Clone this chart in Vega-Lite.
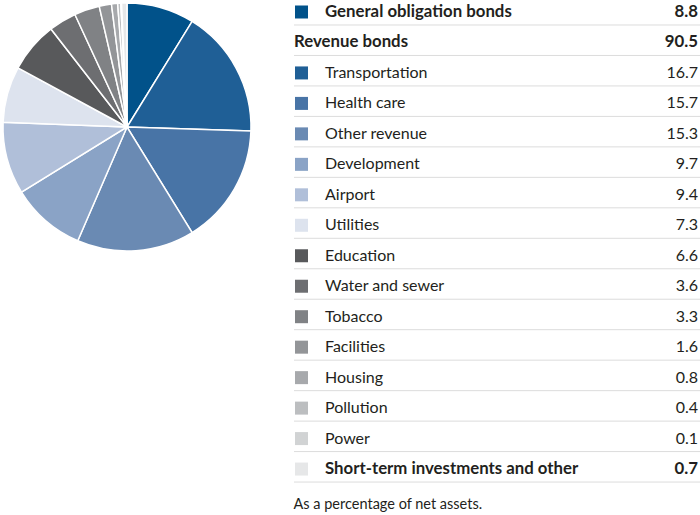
{
  "$schema": "https://vega.github.io/schema/vega-lite/v6.json",
  "padding": 0,
  "background": "white",
  "config": {"view": {"stroke": null}, "concat": {"spacing": 39}, "font": "Lato"},
  "data": {"values": [
    {"i": 0, "label": "General obligation bonds", "value": 8.8, "level": 1, "inPie": true},
    {"i": 1, "label": "Revenue bonds", "value": 90.5, "level": 1, "inPie": false},
    {"i": 2, "label": "Transportation", "value": 16.7, "level": 2, "inPie": true},
    {"i": 3, "label": "Health care", "value": 15.7, "level": 2, "inPie": true},
    {"i": 4, "label": "Other revenue", "value": 15.3, "level": 2, "inPie": true},
    {"i": 5, "label": "Development", "value": 9.7, "level": 2, "inPie": true},
    {"i": 6, "label": "Airport", "value": 9.4, "level": 2, "inPie": true},
    {"i": 7, "label": "Utilities", "value": 7.3, "level": 2, "inPie": true},
    {"i": 8, "label": "Education", "value": 6.6, "level": 2, "inPie": true},
    {"i": 9, "label": "Water and sewer", "value": 3.6, "level": 2, "inPie": true},
    {"i": 10, "label": "Tobacco", "value": 3.3, "level": 2, "inPie": true},
    {"i": 11, "label": "Facilities", "value": 1.6, "level": 2, "inPie": true},
    {"i": 12, "label": "Housing", "value": 0.8, "level": 2, "inPie": true},
    {"i": 13, "label": "Pollution", "value": 0.4, "level": 2, "inPie": true},
    {"i": 14, "label": "Power", "value": 0.1, "level": 2, "inPie": true},
    {"i": 15, "label": "Short-term investments and other", "value": 0.7, "level": 1, "inPie": true}
  ]},
  "hconcat": [
    {
      "width": 250,
      "height": 250,
      "transform": [{"filter": "datum.inPie"}],
      "mark": {"type": "arc", "radius": 124, "stroke": "white", "strokeWidth": 1.5},
      "encoding": {
        "theta": {"field": "value", "type": "quantitative", "stack": true},
        "order": {"field": "i", "type": "quantitative"},
        "color": {
          "field": "label", "type": "nominal", "legend": null,
          "scale": {
            "domain": ["General obligation bonds", "Transportation", "Health care", "Other revenue", "Development", "Airport", "Utilities", "Education", "Water and sewer", "Tobacco", "Facilities", "Housing", "Pollution", "Power", "Short-term investments and other"],
            "range": ["#01528a", "#1f5f96", "#4874a6", "#6a8ab3", "#8aa3c6", "#b0bfd9", "#dde3ee", "#58595b", "#6d6e71", "#808285", "#939598", "#a7a9ac", "#bcbec0", "#d1d3d4", "#e6e7e8"]
          }
        }
      }
    },
    {
      "width": 406,
      "height": 485,
      "title": {"text": "As a percentage of net assets.", "orient": "bottom", "anchor": "start", "offset": 11, "fontSize": 14.5, "fontWeight": "normal", "color": "#231f20", "font": "Lato"},
      "encoding": {
        "y": {"field": "i", "type": "quantitative", "axis": null, "scale": {"domain": [-0.328, 15.589], "reverse": true, "nice": false, "zero": false}}
      },
      "layer": [
        {
          "mark": {"type": "rule", "stroke": "#dcdcdc", "strokeWidth": 1, "yOffset": 13}
        },
        {
          "transform": [{"filter": "datum.inPie"}],
          "mark": {"type": "square", "filled": true, "size": 169, "opacity": 1},
          "encoding": {
            "x": {"value": 7.5},
            "color": {"field": "label", "type": "nominal", "legend": null}
          }
        },
        {
          "transform": [{"filter": "datum.inPie && datum.level == 2"}],
          "mark": {"type": "text", "align": "left", "baseline": "middle", "fontSize": 16, "color": "#231f20"},
          "encoding": {"x": {"value": 31}, "text": {"field": "label"}}
        },
        {
          "transform": [{"filter": "datum.inPie && datum.level == 1"}],
          "mark": {"type": "text", "align": "left", "baseline": "middle", "fontSize": 16.8, "fontWeight": "bold", "color": "#231f20"},
          "encoding": {"x": {"value": 31}, "text": {"field": "label"}}
        },
        {
          "transform": [{"filter": "!datum.inPie"}],
          "mark": {"type": "text", "align": "left", "baseline": "middle", "fontSize": 16.8, "fontWeight": "bold", "color": "#231f20"},
          "encoding": {"x": {"value": 0}, "text": {"field": "label"}}
        },
        {
          "transform": [{"filter": "datum.level == 2"}],
          "mark": {"type": "text", "align": "right", "baseline": "middle", "fontSize": 16, "color": "#231f20"},
          "encoding": {"x": {"value": 404}, "text": {"field": "value", "format": ".1f"}}
        },
        {
          "transform": [{"filter": "datum.level == 1"}],
          "mark": {"type": "text", "align": "right", "baseline": "middle", "fontSize": 16.8, "fontWeight": "bold", "color": "#231f20"},
          "encoding": {"x": {"value": 404}, "text": {"field": "value", "format": ".1f"}}
        }
      ]
    }
  ]
}
